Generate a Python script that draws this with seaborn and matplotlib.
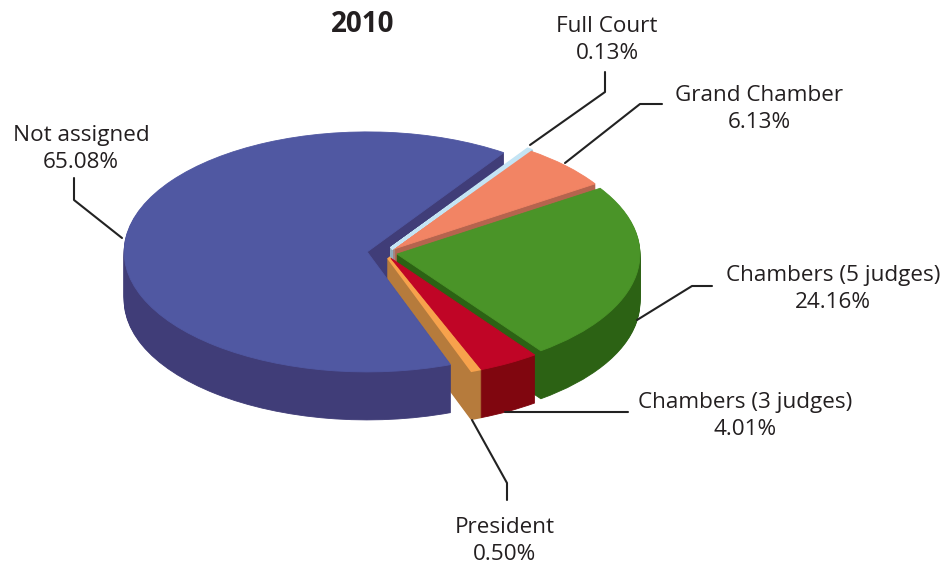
import matplotlib
matplotlib.use('Agg')
import matplotlib.pyplot as plt
import seaborn as sns

sns.set_theme(style='white')
plt.rcParams['font.family'] = ['Open Sans', 'DejaVu Sans']

# data, in pie order (counter clockwise from the top right)
labels = ['Not assigned', 'President', 'Chambers (3 judges)', 'Chambers (5 judges)', 'Grand Chamber', 'Full Court']
shares = [65.08, 0.50, 4.01, 24.16, 6.13, 0.13]
top_colors = ['#5058a2', '#f7a24c', '#c00526', '#4a9428', '#f28464', '#c4e4f4']
side_colors = ['#403d78', '#b67b3c', '#80060f', '#2c6214', '#b5644e', '#8fb0c0']
explode = [0.074, 0.04, 0.05, 0.05, 0.04, 0.045]

# label text anchors and leader lines, in picture pixels
label_pos = [(81, 149), (505, 541), (745, 416), (833, 289), (759, 109), (607, 40)]
leaders = [
    [(74, 178), (74, 200), (122, 238)],
    [(507, 500), (507, 483), (472, 420)],
    [(628, 412), (505, 412)],
    [(712, 286), (692, 286), (637, 320)],
    [(662, 104), (640, 104), (565, 163)],
    [(605, 72), (605, 92), (530, 145)],
]

W, H = 948, 564
cx, cy, rx, ry = 385, 253, 243, 120
depth = 48
start = 55.8

fig = plt.figure(figsize=(W / 100, H / 100), dpi=100)
ax = fig.add_axes([0, 0, 1, 1])


def draw_pie(colors, y):
    wedges, _ = ax.pie(shares, explode=explode, colors=colors, startangle=start, center=(0, y))
    for w in wedges:
        w.set_edgecolor(w.get_facecolor())
        w.set_linewidth(0.6)
    # the two thin slices need some extra width
    wedges[1].set_linewidth(2.5)
    wedges[-1].set_linewidth(2.5)
    return wedges


# stack of pies gives the thick side, the last one is the top face
for k in range(depth, 0, -1):
    draw_pie(side_colors, -k / ry)
draw_pie(top_colors, 0)

ax.set_aspect('auto')
ax.set_xlim(-cx / rx, (W - cx) / rx)
ax.set_ylim((cy - H) / ry, cy / ry)
ax.axis('off')

# overlay in pixels for title, labels, leaders
top = fig.add_axes([0, 0, 1, 1])
top.set_xlim(0, W)
top.set_ylim(H, 0)
top.axis('off')
top.patch.set_alpha(0)

for pts in leaders:
    top.plot([p[0] for p in pts], [p[1] for p in pts], color='#222222', lw=1.5)

for name, val, pos in zip(labels, shares, label_pos):
    top.text(pos[0], pos[1], f'{name}\n{val:.2f}%', ha='center', va='center', fontsize=16.2,
             color='#231f20', linespacing=1.35)
top.text(363, 25, '2010', ha='center', va='center', fontsize=20, fontweight='bold', color='#231f20')

fig.savefig('out.png', dpi=100)
